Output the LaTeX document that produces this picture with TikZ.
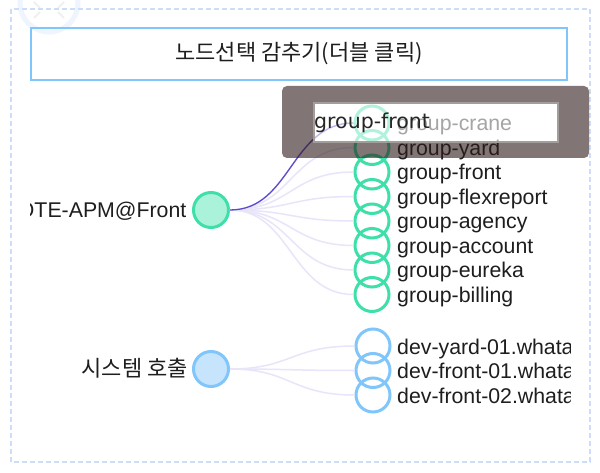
\documentclass[tikz,border=0pt]{standalone}
\usepackage{fontspec}
\setmainfont{Liberation Sans}
\newfontfamily\kr{Noto Sans CJK KR}
\newfontfamily\tipfont{DejaVu Sans}
\definecolor{greenS}{HTML}{3EE0A8}
\definecolor{greenF}{HTML}{ABF2DA}
\definecolor{blueS}{HTML}{80C6FA}
\definecolor{blueF}{HTML}{C6E4FC}
\definecolor{edgeC}{HTML}{E8E5FA}
\definecolor{hiC}{HTML}{5A4BD1}
\definecolor{dashC}{HTML}{CCDDF8}
\definecolor{darkC}{HTML}{2D1C19}
\definecolor{tipborder}{HTML}{A39D9B}
\definecolor{ghostC}{HTML}{EEF5FE}
\definecolor{txtC}{HTML}{1E1E1E}
\begin{document}
\begin{tikzpicture}[x=1pt,y=-1pt,
  ring/.style={circle, draw=#1, line width=3pt, minimum size=34pt, inner sep=0pt},
  hub/.style={circle, draw=#1, line width=3pt, minimum size=35pt, inner sep=0pt},
  lab/.style={anchor=base west, inner sep=0pt, text=txtC, font=\fontsize{21.3}{24}\selectfont},
  hublab/.style={anchor=base east, inner sep=0pt, text=txtC},
  edge/.style={draw=edgeC, line width=1.5pt},
  hiedge/.style={draw=hiC, line width=1.3pt}]
\useasboundingbox (0,0) rectangle (600,473);
\fill[white] (0,0) rectangle (600,473);
% faint ghost icon
\draw[ghostC, line width=5pt] (49,3) circle (29);
\draw[gray!12, line width=2pt] (40,8) -- (34,2) (58,8) -- (64,2) (40,12) -- (34,18) (58,12) -- (64,18);
% dashed frame
\draw[dashC, line width=1.5pt, dash pattern=on 5pt off 3pt] (11,9) rectangle (590,462);
% title box
\node[draw=blueS, line width=2pt, minimum width=536pt, minimum height=52pt, inner sep=0pt,
      font=\kr\fontsize{22}{24}\selectfont, text=txtC] (title) at (299,54) {노드선택 감추기(더블 클릭)};
\begin{scope}
\clip (30,0) rectangle (570,473);
% hubs
\node[hub=greenS, fill=greenF] (apm) at (211,210) {};
\node[hublab, font=\fontsize{21.3}{24}\selectfont] (apml) at (186.5,217.5) {REMOTE-APM@Front};
\node[hub=blueS, fill=blueF] (sys) at (211,369) {};
\node[hublab, font=\kr\fontsize{22}{24}\selectfont] (sysl) at (188,376.5) {시스템 호출};
% group targets
\foreach \i/\t in {0/group-crane,1/group-yard,2/group-front,3/group-flexreport,4/group-agency,5/group-account,6/group-eureka,7/group-billing}{
  \pgfmathsetmacro\yy{123+24.5*\i}
  \node[ring=greenS] (g\i) at (372,\yy) {};
  \node[lab] (gl\i) at (397,\yy+8) {\t};
  \draw[edge] (apm.east) .. controls (291,210) and (291,\yy) .. (g\i.west);
}
% dev targets
\foreach \i/\t in {0/dev-yard-01.whata,1/dev-front-01.whata,2/dev-front-02.whata}{
  \pgfmathsetmacro\yy{346+24.5*\i}
  \node[ring=blueS] (d\i) at (373,\yy) {};
  \node[lab] (dl\i) at (397,\yy+8) {\t};
  \draw[edge] (sys.east) .. controls (291,369) and (291,\yy) .. (d\i.west);
}
\draw[hiedge] (apm.east) .. controls (291,210) and (291,123) .. (g0.west);
\end{scope}
% tooltip overlay
\fill[darkC, fill opacity=0.6, even odd rule, rounded corners=5pt]
  (282,86) rectangle (589,158) [sharp corners] (314,103) rectangle (558,142);
\node[fill=white, fill opacity=0.6, draw=tipborder, line width=2.5pt, minimum width=244pt, minimum height=39pt, inner sep=0pt] (tip) at (436,122.5) {};
\node[anchor=base west, inner sep=0pt, text=black!85, font=\tipfont\fontsize{20.5}{23}\selectfont] (tiplab) at (314,129) {group-front};
\end{tikzpicture}
\end{document}
